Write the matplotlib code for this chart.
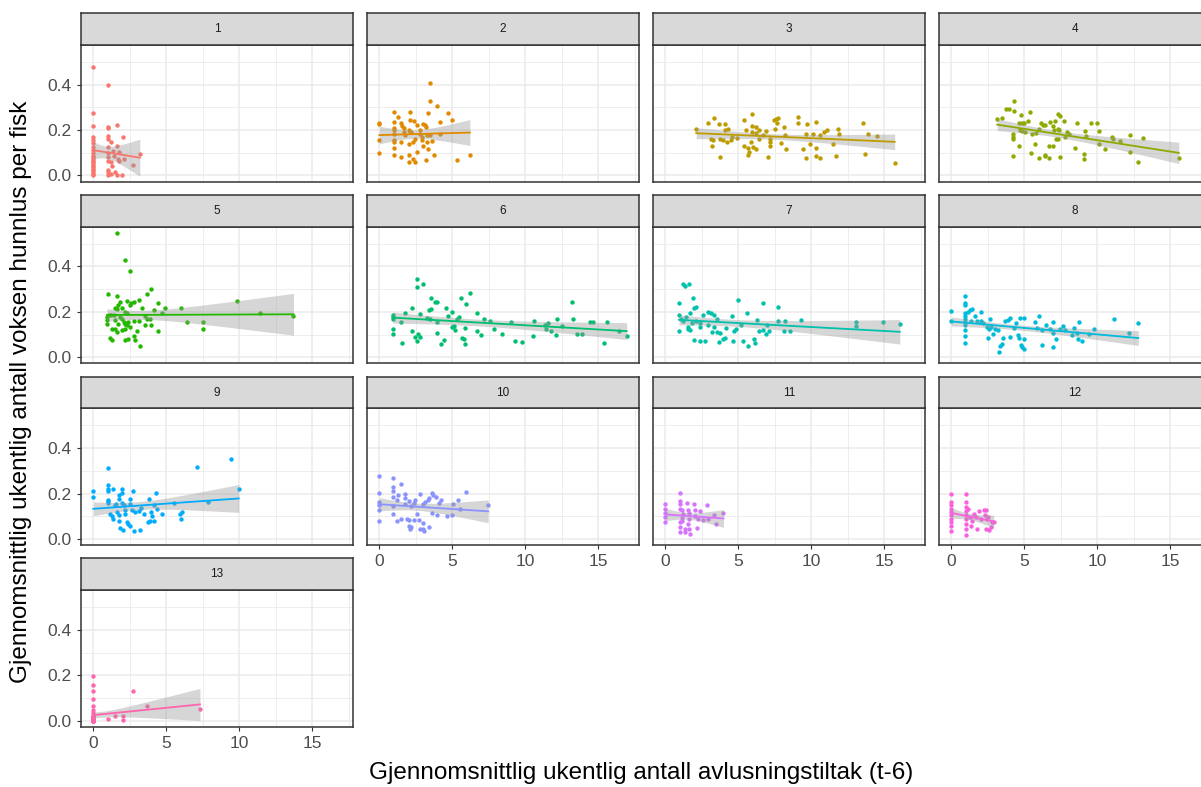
import numpy as np
import matplotlib
matplotlib.use("Agg")
import matplotlib.pyplot as plt

plt.rcParams['font.family'] = ['Liberation Sans', 'DejaVu Sans']

# (x, y) points
panel1 = [(0, 0.48), (0, 0.275), (0, 0.217), (0, 0.168), (0, 0.157), (0, 0.142), (0, 0.127), (0, 0.113),
          (0, 0.098), (0, 0.088), (0, 0.08), (0, 0.072), (0, 0.066), (0, 0.058), (0, 0.051), (0, 0.044),
          (0, 0.037), (0, 0.029), (0, 0.022), (0, 0.015), (0, 0.007), (0, 0.0),
          (1.0, 0.4), (1.0, 0.215), (1.0, 0.21), (1.0, 0.176), (1.0, 0.161), (1.0, 0.125), (1.0, 0.098),
          (1.0, 0.08), (1.0, 0.063), (1.0, 0.025), (1.0, 0.015), (1.0, 0.004), (1.2, 0.146), (1.2, 0.059),
          (1.2, 0.007), (1.59, 0.223), (1.64, 0.132), (1.36, 0.11), (1.3, 0.04), (1.45, 0.015), (1.59, 0.0),
          (1.98, 0.0), (1.75, 0.062), (1.75, 0.103), (1.7, 0.073), (2.02, 0.168), (2.1, 0.073), (2.73, 0.048),
          (3.18, 0.095), (1.4, 0.088)]
panel2 = [(0, 0.233), (0, 0.226), (0, 0.156), (0, 0.10), (0.98, 0.28), (1, 0.237), (1, 0.21), (1, 0.2),
          (1, 0.185), (1, 0.156), (1, 0.147), (1, 0.12), (1, 0.092), (1.3, 0.26), (1.5, 0.23), (1.55, 0.22),
          (1.7, 0.21), (1.5, 0.148), (1.5, 0.08), (1.66, 0.19), (1.77, 0.18), (2.0, 0.2), (2.1, 0.19),
          (2.2, 0.19), (2.1, 0.28), (2.1, 0.245), (2.35, 0.24), (2.0, 0.14), (2.0, 0.092), (2.0, 0.06),
          (2.45, 0.06), (2.3, 0.074), (2.3, 0.148), (2.45, 0.163), (2.55, 0.104), (2.57, 0.222), (2.75, 0.2),
          (2.8, 0.185), (2.9, 0.17), (3.0, 0.227), (3.1, 0.222), (3.2, 0.215), (3.0, 0.13), (2.9, 0.158),
          (3.25, 0.18), (3.3, 0.274), (3.25, 0.148), (3.36, 0.118), (3.2, 0.067), (3.48, 0.41), (3.48, 0.33),
          (3.5, 0.178), (3.6, 0.153), (3.75, 0.092), (3.98, 0.307), (4.16, 0.237), (4.16, 0.185), (4.7, 0.274),
          (4.95, 0.244), (5.3, 0.067), (6.2, 0.089)]
panel3 = [(2.11, 0.203), (2.9, 0.233), (3.36, 0.252), (3.7, 0.225), (4.1, 0.225), (4.27, 0.207), (4.05, 0.2),
          (3.14, 0.163), (3.25, 0.156), (3.2, 0.132), (3.77, 0.159), (3.93, 0.156), (3.77, 0.081), (4.2, 0.148),
          (4.5, 0.156), (4.55, 0.17), (4.9, 0.166), (5.4, 0.244), (5.5, 0.2), (5.93, 0.271), (5.93, 0.218),
          (6.2, 0.212), (5.9, 0.19), (6.2, 0.188), (6.43, 0.2), (6.66, 0.178), (6.9, 0.197), (6.4, 0.159),
          (5.86, 0.147), (5.4, 0.129), (5.64, 0.123), (5.98, 0.126), (6.2, 0.119), (5.7, 0.104), (5.64, 0.089),
          (7.05, 0.081), (7.16, 0.163), (7.16, 0.148), (7.16, 0.129), (7.45, 0.244), (7.6, 0.25), (7.7, 0.255),
          (7.63, 0.233), (7.5, 0.207), (8.1, 0.212), (8.2, 0.178), (7.9, 0.144), (8.25, 0.119), (9.1, 0.256),
          (9.1, 0.23), (9.73, 0.225), (10.3, 0.237), (9.6, 0.185), (10.1, 0.185), (10.6, 0.178), (10.86, 0.193),
          (11.1, 0.2), (11.8, 0.207), (11.9, 0.185), (9.4, 0.119), (9.9, 0.138), (10.3, 0.123), (9.6, 0.079),
          (10.3, 0.084), (10.6, 0.077), (11.5, 0.138), (11.66, 0.086), (13.5, 0.23), (13.9, 0.181),
          (14.5, 0.173), (13.7, 0.093), (15.7, 0.055)]
panel4 = [(3.14, 0.247), (3.48, 0.252), (3.75, 0.293), (3.93, 0.293), (4.3, 0.329), (4.27, 0.286), (4.8, 0.267),
          (5.36, 0.279), (4.66, 0.23), (4.84, 0.23), (5.0, 0.233), (5.25, 0.239), (4.23, 0.182), (4.23, 0.17),
          (4.23, 0.159), (4.66, 0.129), (4.2, 0.086), (4.7, 0.2), (4.86, 0.197), (5.07, 0.193), (5.5, 0.182),
          (5.8, 0.188), (5.7, 0.141), (5.45, 0.099), (6.0, 0.079), (6.0, 0.207), (6.16, 0.23), (6.3, 0.222),
          (6.43, 0.222), (6.77, 0.236), (6.93, 0.218), (7.1, 0.24), (7.3, 0.271), (7.45, 0.262), (7.7, 0.24),
          (6.7, 0.132), (6.93, 0.129), (6.4, 0.092), (6.43, 0.086), (6.7, 0.079), (7.0, 0.2), (7.3, 0.207),
          (7.4, 0.2), (7.16, 0.163), (7.3, 0.159), (7.45, 0.081), (7.75, 0.17), (7.9, 0.193), (8.07, 0.185),
          (8.6, 0.233), (8.48, 0.123), (9.16, 0.197), (9.2, 0.173), (9.1, 0.096), (9.1, 0.071), (9.57, 0.23),
          (9.95, 0.23), (10.1, 0.196), (10.1, 0.138), (10.5, 0.117), (10.98, 0.17), (11.1, 0.163),
          (11.55, 0.153), (12.2, 0.179), (12.2, 0.105), (12.75, 0.059), (13.1, 0.166), (15.57, 0.079)]
panel5 = [(1.6, 0.548), (2.2, 0.43), (2.5, 0.38), (1.0, 0.277), (1.6, 0.271), (3.95, 0.3), (3.7, 0.28),
          (3.1, 0.252), (2.75, 0.244), (2.6, 0.237), (2.5, 0.23), (2.3, 0.247), (1.84, 0.244), (1.7, 0.23),
          (1.5, 0.218), (1.6, 0.212), (1.95, 0.218), (3.3, 0.218), (4.4, 0.237), (4.16, 0.207), (4.9, 0.215),
          (4.7, 0.197), (5.98, 0.219), (1.05, 0.185), (1.2, 0.188), (1.4, 0.188), (0.93, 0.178), (0.93, 0.163),
          (0.93, 0.148), (2.2, 0.2), (2.3, 0.197), (1.84, 0.178), (1.95, 0.17), (2.07, 0.156), (2.2, 0.148),
          (2.3, 0.141), (2.4, 0.156), (2.5, 0.133), (1.5, 0.163), (1.7, 0.148), (2.75, 0.16), (3.1, 0.16),
          (3.55, 0.181), (3.66, 0.17), (3.9, 0.17), (3.55, 0.141), (3.95, 0.141), (1.27, 0.126), (1.5, 0.123),
          (1.6, 0.111), (1.95, 0.119), (2.2, 0.126), (3.0, 0.114), (4.45, 0.116), (1.16, 0.084), (1.27, 0.074),
          (2.2, 0.074), (2.4, 0.081), (2.75, 0.092), (2.86, 0.074), (3.2, 0.049), (6.4, 0.156), (7.5, 0.156),
          (7.5, 0.123), (9.84, 0.249), (11.43, 0.196), (13.7, 0.181)]
panel6 = [(0.93, 0.185), (0.93, 0.178), (0.93, 0.17), (0.93, 0.126), (0.93, 0.104), (1.48, 0.153), (1.57, 0.062),
          (1.77, 0.197), (2.23, 0.219), (2.23, 0.114), (2.45, 0.089), (2.6, 0.344), (2.98, 0.323), (2.6, 0.308),
          (2.75, 0.19), (2.66, 0.104), (2.8, 0.089), (2.6, 0.07), (3.25, 0.173), (3.48, 0.17), (3.43, 0.207),
          (3.55, 0.212), (3.55, 0.259), (3.8, 0.244), (3.98, 0.244), (3.98, 0.153), (3.98, 0.108), (4.2, 0.056),
          (4.45, 0.077), (4.57, 0.219), (4.73, 0.181), (4.95, 0.2), (4.95, 0.133), (5.1, 0.138), (5.2, 0.119),
          (5.3, 0.167), (5.45, 0.178), (5.57, 0.259), (5.93, 0.234), (6.2, 0.281), (5.66, 0.086), (5.77, 0.081),
          (5.84, 0.129), (5.86, 0.056), (6.7, 0.196), (6.66, 0.116), (6.95, 0.096), (7.18, 0.167), (7.57, 0.159),
          (7.84, 0.126), (8.4, 0.101), (8.98, 0.153), (9.27, 0.07), (9.8, 0.065), (10.5, 0.092), (10.6, 0.159),
          (11.34, 0.144), (11.43, 0.123), (11.57, 0.151), (11.77, 0.114), (12.1, 0.096), (12.16, 0.167),
          (12.5, 0.138), (13.2, 0.244), (13.25, 0.167), (13.5, 0.101), (13.9, 0.104), (14.4, 0.156),
          (14.6, 0.153), (15.4, 0.062), (15.6, 0.153), (16.43, 0.114), (16.93, 0.092)]
panel7 = [(0.93, 0.241), (0.93, 0.188), (0.93, 0.116), (1.2, 0.321), (1.36, 0.314), (1.61, 0.321), (1.1, 0.167),
          (1.2, 0.159), (1.43, 0.178), (1.55, 0.126), (1.66, 0.119), (1.55, 0.133), (1.7, 0.193), (1.9, 0.262),
          (1.95, 0.215), (2.1, 0.222), (1.84, 0.151), (1.95, 0.077), (2.34, 0.071), (2.73, 0.07), (2.1, 0.159),
          (2.34, 0.151), (2.4, 0.133), (2.57, 0.188), (2.9, 0.2), (3.14, 0.193), (3.36, 0.188), (2.9, 0.144),
          (3.2, 0.111), (3.3, 0.133), (3.55, 0.167), (3.55, 0.111), (3.77, 0.107), (3.7, 0.067), (3.93, 0.081),
          (4.05, 0.086), (4.16, 0.129), (4.55, 0.182), (4.68, 0.116), (4.84, 0.126), (4.64, 0.071),
          (4.95, 0.252), (5.18, 0.141), (5.32, 0.07), (5.6, 0.196), (5.68, 0.049), (6.09, 0.079), (6.16, 0.064),
          (6.27, 0.166), (6.39, 0.116), (6.66, 0.237), (6.7, 0.121), (6.9, 0.104), (7.1, 0.116), (6.95, 0.141),
          (7.68, 0.222), (7.68, 0.159), (8.14, 0.116), (8.2, 0.161), (8.5, 0.116), (9.27, 0.163),
          (13.07, 0.156), (13.07, 0.138), (14.9, 0.156), (16.05, 0.148)]
panel8 = [(0, 0.203), (0, 0.159), (0.93, 0.27), (0.93, 0.24), (0.93, 0.23), (0.93, 0.193), (0.93, 0.182),
          (0.93, 0.17), (0.93, 0.156), (0.93, 0.141), (0.93, 0.119), (0.93, 0.092), (0.93, 0.064), (1.16, 0.2),
          (1.25, 0.21), (1.39, 0.212), (1.36, 0.159), (1.6, 0.182), (1.73, 0.159), (2.0, 0.2), (2.0, 0.159),
          (2.16, 0.151), (2.45, 0.133), (2.57, 0.126), (2.68, 0.133), (2.64, 0.167), (2.5, 0.086), (2.84, 0.104),
          (2.98, 0.123), (3.18, 0.121), (3.25, 0.025), (3.36, 0.049), (3.48, 0.059), (3.55, 0.086), (3.7, 0.159),
          (3.9, 0.166), (4.0, 0.173), (4.0, 0.089), (4.32, 0.129), (4.45, 0.151), (4.57, 0.096), (4.66, 0.086),
          (4.73, 0.173), (4.95, 0.173), (4.8, 0.055), (4.84, 0.044), (4.95, 0.037), (4.95, 0.081), (5.7, 0.153),
          (5.98, 0.182), (5.86, 0.129), (6.2, 0.119), (6.2, 0.055), (6.5, 0.144), (6.77, 0.126), (6.95, 0.108),
          (6.95, 0.153), (6.95, 0.044), (7.16, 0.081), (7.45, 0.126), (7.64, 0.138), (7.8, 0.119), (8.25, 0.096),
          (8.43, 0.129), (8.6, 0.108), (8.75, 0.156), (8.7, 0.081), (8.93, 0.07), (9.39, 0.104), (9.8, 0.123),
          (11.16, 0.17), (12.16, 0.107), (12.8, 0.151)]
panel9 = [(0, 0.212), (0, 0.185), (0.98, 0.314), (0.98, 0.237), (0.98, 0.222), (0.98, 0.212), (0.98, 0.173),
          (0.98, 0.167), (0.98, 0.159), (1.16, 0.111), (1.27, 0.099), (1.32, 0.089), (1.32, 0.218), (1.45, 0.151),
          (1.55, 0.156), (1.73, 0.193), (1.73, 0.178), (1.6, 0.119), (1.73, 0.107), (1.77, 0.081), (1.95, 0.222),
          (1.95, 0.203), (1.95, 0.159), (2.07, 0.148), (1.84, 0.049), (2.0, 0.04), (2.18, 0.126), (2.2, 0.111),
          (2.3, 0.074), (2.4, 0.064), (2.48, 0.055), (2.48, 0.178), (2.48, 0.156), (2.7, 0.21), (2.64, 0.126),
          (2.86, 0.119), (3.1, 0.123), (2.8, 0.034), (3.2, 0.04), (3.27, 0.138), (3.5, 0.108), (3.73, 0.074),
          (3.82, 0.178), (3.95, 0.119), (4.0, 0.099), (3.9, 0.081), (4.18, 0.081), (4.16, 0.151), (4.39, 0.133),
          (4.3, 0.203), (4.73, 0.111), (5.55, 0.159), (5.95, 0.111), (6.05, 0.119), (5.98, 0.086), (7.11, 0.319),
          (7.82, 0.163), (9.45, 0.353), (9.95, 0.218)]
panel10 = [(0, 0.277), (0, 0.204), (0, 0.163), (0, 0.148), (0, 0.129), (0, 0.077), (0.93, 0.267), (0.93, 0.227),
           (0.93, 0.212), (0.93, 0.185), (0.93, 0.144), (0.93, 0.111), (1.2, 0.17), (1.3, 0.193), (1.48, 0.244),
           (1.2, 0.079), (1.48, 0.089), (1.77, 0.197), (1.77, 0.182), (1.77, 0.156), (1.89, 0.089), (2.0, 0.084),
           (2.0, 0.055), (2.1, 0.044), (2.2, 0.052), (2.0, 0.167), (2.2, 0.144), (2.34, 0.159), (2.45, 0.17),
           (2.34, 0.084), (2.57, 0.111), (2.68, 0.084), (2.8, 0.2), (2.75, 0.044), (2.98, 0.044), (3.07, 0.034),
           (2.98, 0.071), (3.0, 0.153), (3.14, 0.163), (3.36, 0.17), (3.4, 0.052), (3.43, 0.181), (3.6, 0.203),
           (3.7, 0.193), (3.86, 0.185), (3.6, 0.116), (3.98, 0.104), (4.05, 0.159), (4.23, 0.17), (4.66, 0.101),
           (4.95, 0.107), (5.07, 0.156), (5.36, 0.17), (5.5, 0.133), (5.93, 0.207), (7.45, 0.148)]
panel11 = [(0, 0.153), (0, 0.133), (0, 0.114), (0, 0.096), (0, 0.074), (0.98, 0.204), (0.98, 0.167), (0.98, 0.153),
           (0.98, 0.133), (1.14, 0.126), (1.18, 0.111), (0.98, 0.074), (0.98, 0.052), (0.98, 0.03), (1.14, 0.093),
           (1.14, 0.079), (1.32, 0.044), (1.36, 0.03), (1.48, 0.159), (1.52, 0.129), (1.64, 0.116), (1.6, 0.089),
           (1.64, 0.044), (1.7, 0.022), (1.55, 0.067), (1.93, 0.153), (2.0, 0.126), (2.05, 0.099), (2.16, 0.049),
           (2.23, 0.089), (2.39, 0.123), (2.55, 0.084), (2.84, 0.148), (2.95, 0.089), (3.34, 0.104),
           (3.45, 0.064), (3.98, 0.114)]
panel12 = [(0, 0.2), (0, 0.163), (0, 0.148), (0, 0.133), (0, 0.119), (0, 0.104), (0, 0.089), (0, 0.074), (0, 0.055),
           (0, 0.034), (0.98, 0.2), (0.98, 0.163), (0.98, 0.141), (0.98, 0.123), (0.98, 0.104), (0.98, 0.089),
           (0.98, 0.067), (0.98, 0.044), (0.98, 0.019), (1.16, 0.133), (1.3, 0.096), (1.43, 0.081), (1.55, 0.111),
           (1.66, 0.096), (1.32, 0.055), (1.77, 0.044), (1.89, 0.123), (2.0, 0.089), (2.23, 0.129), (2.39, 0.129),
           (2.3, 0.104), (2.45, 0.089), (2.34, 0.044), (2.57, 0.037), (2.68, 0.052), (2.8, 0.074), (2.9, 0.074),
           (2.52, 0.096)]
# many weeks without treatment sit on top of each other near zero in facet 13
panel13 = [(0, 0.195), (0, 0.157), (0, 0.132), (0, 0.095), (0, 0.063), (0, 0.048), (0, 0.034), (0, 0.022),
           (0, 0.01), (0, 0.0), (0, 0.0), (0, 0.0), (0, 0.0), (0, 0.0), (0, 0.0), (0, 0.002), (0, 0.002),
           (0, 0.003), (0, 0.003), (0, 0.004), (0, 0.004), (0, 0.005), (0, 0.005), (0, 0.006), (0, 0.006),
           (0, 0.007), (0, 0.007), (0, 0.008), (0, 0.008), (0, 0.009), (0, 0.009), (0, 0.01), (0, 0.011),
           (0, 0.012), (0, 0.013), (0, 0.014), (0, 0.015), (0, 0.016), (0, 0.018), (0, 0.02),
           (1.0, 0.007), (1.47, 0.019), (2.04, 0.019), (2.04, 0.004), (2.68, 0.132),
           (3.65, 0.063), (7.3, 0.051)]

panels = [panel1, panel2, panel3, panel4, panel5, panel6, panel7, panel8,
          panel9, panel10, panel11, panel12, panel13]
labels = [str(i + 1) for i in range(13)]
colors = ['#F8766D', '#E18A00', '#BE9C00', '#8CAB00', '#24B700', '#00BE70', '#00C1AB',
          '#00BBDA', '#00ACFC', '#8B93FF', '#D575FE', '#F962DD', '#FF65AC']

xlab = "Gjennomsnittlig ukentlig antall avlusningstiltak (t-6)"
ylab = "Gjennomsnittlig ukentlig antall voksen hunnlus per fisk"


def t_quantile(df, z=1.959964):
    # Cornish-Fisher approximation of the t quantile (no scipy needed)
    g1 = (z**3 + z) / 4
    g2 = (5 * z**5 + 16 * z**3 + 3 * z) / 96
    g3 = (3 * z**7 + 19 * z**5 + 17 * z**3 - 15 * z) / 384
    return z + g1 / df + g2 / df**2 + g3 / df**3


def lm_band(x, y, n=80):
    b, a = np.polyfit(x, y, 1)
    xs = np.linspace(x.min(), x.max(), n)
    fit = a + b * xs
    resid = y - (a + b * x)
    df = len(x) - 2
    s = np.sqrt(np.sum(resid**2) / df)
    se = s * np.sqrt(1 / len(x) + (xs - x.mean())**2 / np.sum((x - x.mean())**2))
    t = t_quantile(df)
    return xs, fit, fit - t * se, fit + t * se


all_x = np.concatenate([[p[0] for p in pts] for pts in panels])
all_y = np.concatenate([[p[1] for p in pts] for pts in panels])
xr = all_x.max() - all_x.min()
yr = all_y.max() - all_y.min()
xlim = (all_x.min() - 0.05 * xr, all_x.max() + 0.05 * xr)
ylim = (all_y.min() - 0.05 * yr, all_y.max() + 0.05 * yr)

W, H = 1201, 787
fig = plt.figure(figsize=(W / 100, H / 100), dpi=100)


def rect(left, top, w, h):
    return [left / W, 1 - (top + h) / H, w / W, h / H]


dark = '#333333'
for i, pts in enumerate(panels):
    row, col = i // 4, i % 4
    left = 81 + col * 286
    ax = fig.add_axes(rect(left, 45 + row * 181.7, 272, 136.7))
    st = fig.add_axes(rect(left, 13.3 + row * 181.7, 272, 31.7))

    st.set_facecolor('#D9D9D9')
    st.set_xticks([])
    st.set_yticks([])
    for sp in st.spines.values():
        sp.set_color(dark)
        sp.set_linewidth(1.1)
    st.text(0.5, 0.5, labels[i], ha='center', va='center', fontsize=8.5, color='#1A1A1A',
            transform=st.transAxes)

    x = np.array([p[0] for p in pts], dtype=float)
    y = np.array([p[1] for p in pts], dtype=float)
    ax.scatter(x, y, s=10, color=colors[i], linewidths=0, zorder=2)
    xs, fit, lo, hi = lm_band(x, y)
    ax.fill_between(xs, lo, hi, color='#999999', alpha=0.4, linewidth=0, zorder=3)
    ax.plot(xs, fit, color=colors[i], lw=1.3, zorder=4)

    ax.set_xlim(xlim)
    ax.set_ylim(ylim)
    ax.set_xticks([0, 5, 10, 15])
    ax.set_xticks([2.5, 7.5, 12.5, 17.5], minor=True)
    ax.set_yticks([0.0, 0.2, 0.4])
    ax.set_yticks([0.1, 0.3, 0.5], minor=True)
    ax.set_xticklabels(['0', '5', '10', '15'])
    ax.set_yticklabels(['0.0', '0.2', '0.4'])
    ax.grid(which='major', color='#EBEBEB', lw=1.1, zorder=0)
    ax.grid(which='minor', color='#EBEBEB', lw=0.6, zorder=0)
    ax.set_axisbelow(True)
    for sp in ax.spines.values():
        sp.set_color(dark)
        sp.set_linewidth(1.1)

    bottom = (i == 12) or (i in (9, 10, 11))
    ax.tick_params(which='minor', length=0)
    ax.tick_params(which='major', length=3, width=0.8, color=dark, labelcolor='#4D4D4D',
                   labelsize=12.5, pad=3.5,
                   left=(col == 0), labelleft=(col == 0),
                   bottom=bottom, labelbottom=bottom)

fig.text(641 / W, 1 - 773 / H, xlab, ha='center', va='center', fontsize=17.5)
fig.text(21 / W, 1 - 392 / H, ylab, ha='center', va='center', rotation=90, fontsize=17.5)

fig.savefig('out.png', dpi=100)
